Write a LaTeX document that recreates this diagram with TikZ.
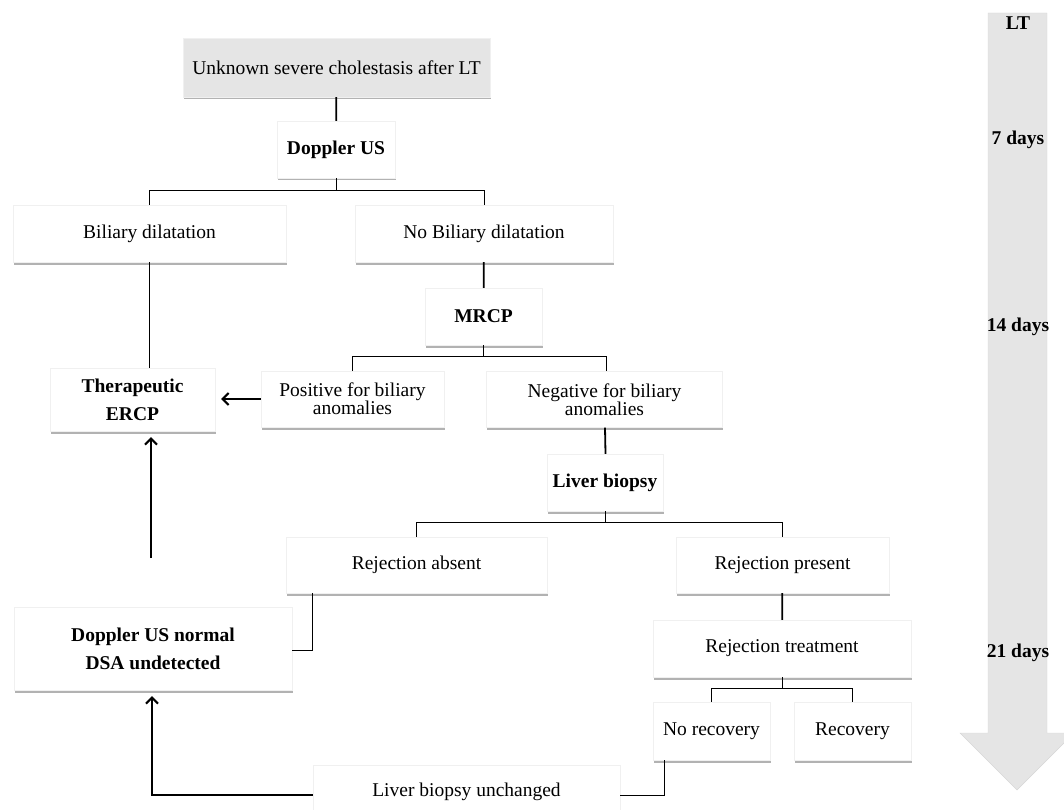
\documentclass[tikz,border=0pt]{standalone}
\usepackage{fontspec}
\setmainfont{Liberation Serif}
\usetikzlibrary{shadows,arrows.meta}

\begin{document}
\begin{tikzpicture}[x=1pt,y=-1pt,
  box/.style={rectangle, fill=white, draw=black!6, inner sep=2pt, align=center,
    font=\fontsize{19.5}{18}\selectfont,
    drop shadow={shadow xshift=0.8pt, shadow yshift=-2.5pt, fill=black!55, opacity=.55}},
  boldbox/.style={box, font=\fontsize{19.5}{28}\selectfont\bfseries},
  link/.style={line width=1pt},
  stub/.style={line width=1.8pt},
  arr/.style={line width=2pt, -{Straight Barb[length=6pt,width=12pt]}, shorten >=6pt}]
\useasboundingbox (0,0) rectangle (1064,810);
% Time line
\fill[black!10, draw=black!16] (988,13) -- (1047,13) -- (1047,733) -- (1074,733) -- (1017,790) -- (960,733) -- (988,733) -- cycle;
\node[font=\fontsize{19.5}{20}\selectfont\bfseries] at (1018,23) (lt) {LT};
\node[font=\fontsize{19.5}{20}\selectfont\bfseries] at (1018,140) (d7) {7 days};
\node[font=\fontsize{19.5}{20}\selectfont\bfseries] at (1018,327) (d14) {14 days};
\node[font=\fontsize{19.5}{20}\selectfont\bfseries] at (1018,653) (d21) {21 days};
% Define the nodes
\node[box, fill=black!10, minimum width=307pt, minimum height=59pt] at (336.5,67.5) (start) {Unknown severe cholestasis after LT};
\node[boldbox, minimum width=118pt, minimum height=57pt] at (336,149.5) (dus) {Doppler US};
\node[box, minimum width=273pt, minimum height=57pt] at (149.5,233.5) (bdil) {Biliary dilatation};
\node[box, minimum width=258pt, minimum height=57pt] at (484,233.5) (nobdil) {No Biliary dilatation};
\node[boldbox, minimum width=117pt, minimum height=57pt] at (483.5,316.5) (mrcp) {MRCP};
\node[boldbox, minimum width=165pt, minimum height=63pt] at (132.5,399.5) (ercp) {Therapeutic\\ERCP};
\node[box, minimum width=183pt, minimum height=56pt] at (352.5,399) (pos) {Positive for biliary\\anomalies};
\node[box, minimum width=236pt, minimum height=56pt] at (604.5,399.5) (neg) {Negative for biliary\\anomalies};
\node[boldbox, minimum width=116pt, minimum height=57pt] at (605,482.5) (lbio) {Liver biopsy};
\node[box, minimum width=261pt, minimum height=56pt] at (416.5,565) (rabs) {Rejection absent};
\node[box, minimum width=213pt, minimum height=56pt] at (782.5,565) (rpres) {Rejection present};
\node[box, minimum width=258pt, minimum height=57pt] at (782,648.5) (rtreat) {Rejection treatment};
\node[box, minimum width=117pt, minimum height=58pt] at (711.5,731) (norec) {No recovery};
\node[box, minimum width=117pt, minimum height=58pt] at (852.5,731) (rec) {Recovery};
\node[box, minimum width=307pt, minimum height=54pt] at (466.5,792) (lbunch) {Liver biopsy unchanged};
\node[boldbox, minimum width=278pt, minimum height=83pt] at (153,648.5) (dusn) {Doppler US normal\\DSA undetected};
\coordinate (up) at (151,558);
% Draw the paths
\draw[stub] (start) -- (dus);
\draw[link] (dus.south) -- ++(0,12) -| (bdil.north);
\draw[link] (dus.south) -- ++(0,12) -| (nobdil.north);
\draw[link] (bdil.south) -- (bdil.south |- ercp.north);
\draw[stub] (nobdil) -- (mrcp);
\draw[link] (mrcp.south) -- ++(0,11) -| (pos.north);
\draw[link] (mrcp.south) -- ++(0,11) -| ([xshift=1.5pt]neg.north);
\draw[arr] (pos.west) -- (pos.west -| ercp.east);
\draw[stub] ([xshift=0.5pt]neg.south) -- ([xshift=0.5pt]lbio.north);
\draw[link] (lbio.south) -- ++(0,11) -| (rabs.north);
\draw[link] (lbio.south) -- ++(0,11) -| (rpres.north);
\draw[link] ([xshift=27pt]rabs.south west) |- ([yshift=-2pt]dusn.east);
\draw[stub] (rpres) -- (rtreat);
\draw[link] (rtreat.south) -- ++(0,11) -| (norec.north);
\draw[link] (rtreat.south) -- ++(0,11) -| (rec.north);
\draw[link] ([xshift=12pt]norec.south west) |- ([yshift=-3pt]lbunch.east);
\draw[arr] ([yshift=-3pt]lbunch.west) -| ([xshift=-1pt]dusn.south);
\draw[arr] (up) -- (up |- ercp.south);
\end{tikzpicture}
\end{document}
